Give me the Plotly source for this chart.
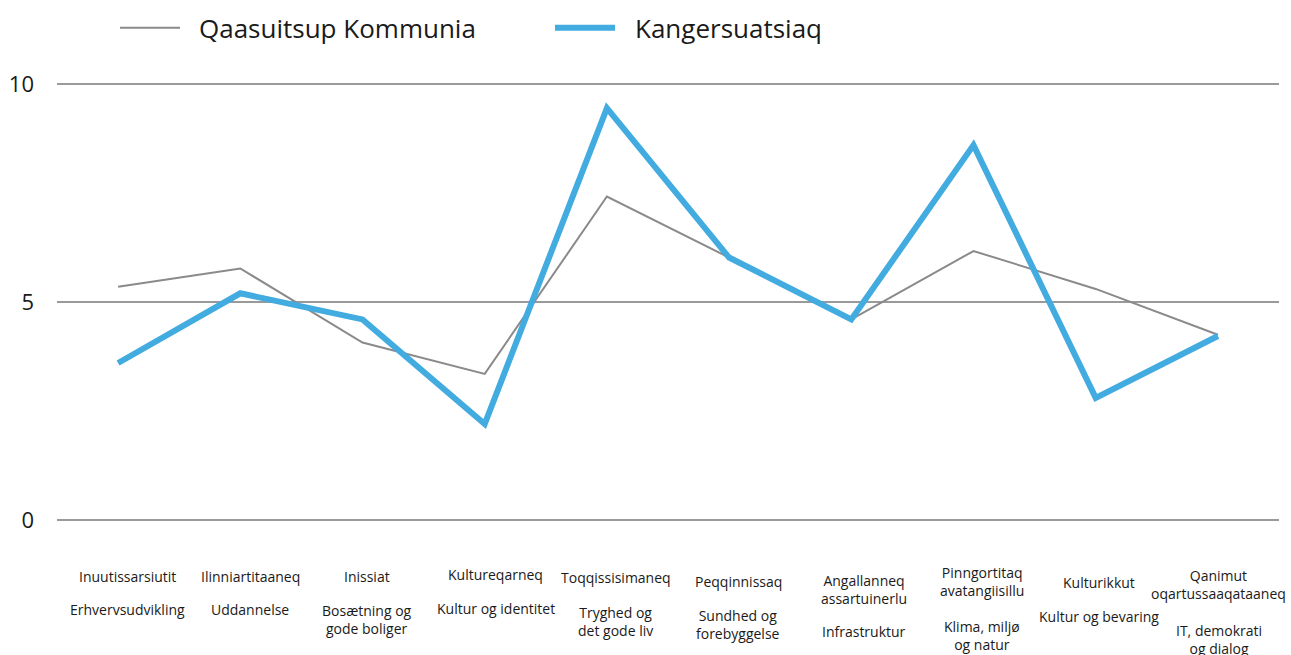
import plotly.graph_objects as go

# Index categories (Greenlandic / Danish) and scores for the two series
kl_labels = ["Inuutissarsiutit", "Ilinniartitaaneq", "Inissiat", "Kultureqarneq",
             "Toqqissisimaneq", "Peqqinnissaq", "Angallanneq<br>assartuinerlu",
             "Pinngortitaq<br>avatangiisillu", "Kulturikkut", "Qanimut<br>oqartussaaqataaneq"]
da_labels = ["Erhvervsudvikling", "Uddannelse", "Bosætning og<br>gode boliger",
             "Kultur og identitet", "Tryghed og<br>det gode liv", "Sundhed og<br>forebyggelse",
             "Infrastruktur", "Klima, miljø<br>og natur", "Kultur og bevaring",
             "IT, demokrati<br>og dialog"]
qaasuitsup = [5.35, 5.77, 4.07, 3.35, 7.42, 6.02, 4.6, 6.17, 5.3, 4.25]
kangersuatsiaq = [3.6, 5.2, 4.6, 2.2, 9.45, 6.02, 4.6, 8.6, 2.8, 4.22]
y_ticks = [0, 5, 10]

series_names = ["Qaasuitsup Kommunia", "Kangersuatsiaq"]
grey = "#8a8a8a"
blue = "#42abe0"
FONT = "Open Sans"

x = list(range(len(kl_labels)))

fig = go.Figure()
fig.add_trace(go.Scatter(x=x, y=qaasuitsup, mode="lines", name=series_names[0],
                         line=dict(color=grey, width=2)))
fig.add_trace(go.Scatter(x=x, y=kangersuatsiaq, mode="lines", name=series_names[1],
                         line=dict(color=blue, width=6)))

# Label placement below the axis: (x shift px, greenlandic centre px, danish centre px)
label_pos = [(9, 57, 90), (10, 57, 90), (4, 57, 100), (11, 55, 89), (9, 58, 102),
             (9, 62, 105), (13, 70, 112), (8, 62, 116), (3, 63, 97), (1, 65, 120)]

annotations = []
for i, (dx, y1, y2) in enumerate(label_pos):
    for txt, yy in ((kl_labels[i], y1), (da_labels[i], y2)):
        annotations.append(dict(x=i, y=0, xref="x", yref="y", text=txt,
                                showarrow=False, xanchor="center", yanchor="middle",
                                xshift=dx, yshift=-yy, align="center",
                                font=dict(family=FONT, size=14, color="#1a1a1a")))

# Legend drawn as sample lines with text
legend_items = [(120, 180, grey, 2, 197, series_names[0]),
                (555, 615, blue, 6, 633, series_names[1])]
shapes = []
for x0, x1, col, w, tx, name in legend_items:
    shapes.append(dict(type="line", xref="paper", yref="paper",
                       x0=(x0 - 57) / 1222, x1=(x1 - 57) / 1222,
                       y0=1 + 55 / 436, y1=1 + 55 / 436,
                       line=dict(color=col, width=w)))
    annotations.append(dict(x=(tx - 57) / 1222, y=1 + 55 / 436, xref="paper", yref="paper",
                            text=name, showarrow=False, xanchor="left", yanchor="middle",
                            font=dict(family=FONT, size=26, color="#1a1a1a")))

fig.update_layout(
    width=1291, height=655,
    margin=dict(l=57, r=12, t=83, b=134),
    paper_bgcolor="white", plot_bgcolor="white",
    showlegend=False,
    xaxis=dict(range=[-0.5, 9.5], showticklabels=False, showgrid=False,
               zeroline=False, showline=False, automargin=False),
    yaxis=dict(range=[-0.025, 10.025], tickvals=y_ticks, ticktext=[str(v) for v in y_ticks],
               showgrid=True, gridcolor="#9a9a9a", gridwidth=2, zeroline=False,
               showline=False, ticks="", ticklabelstandoff=22, automargin=False,
               tickfont=dict(family=FONT, size=22, color="#1a1a1a")),
    annotations=annotations,
    shapes=shapes,
)

fig.write_html("out.html")
